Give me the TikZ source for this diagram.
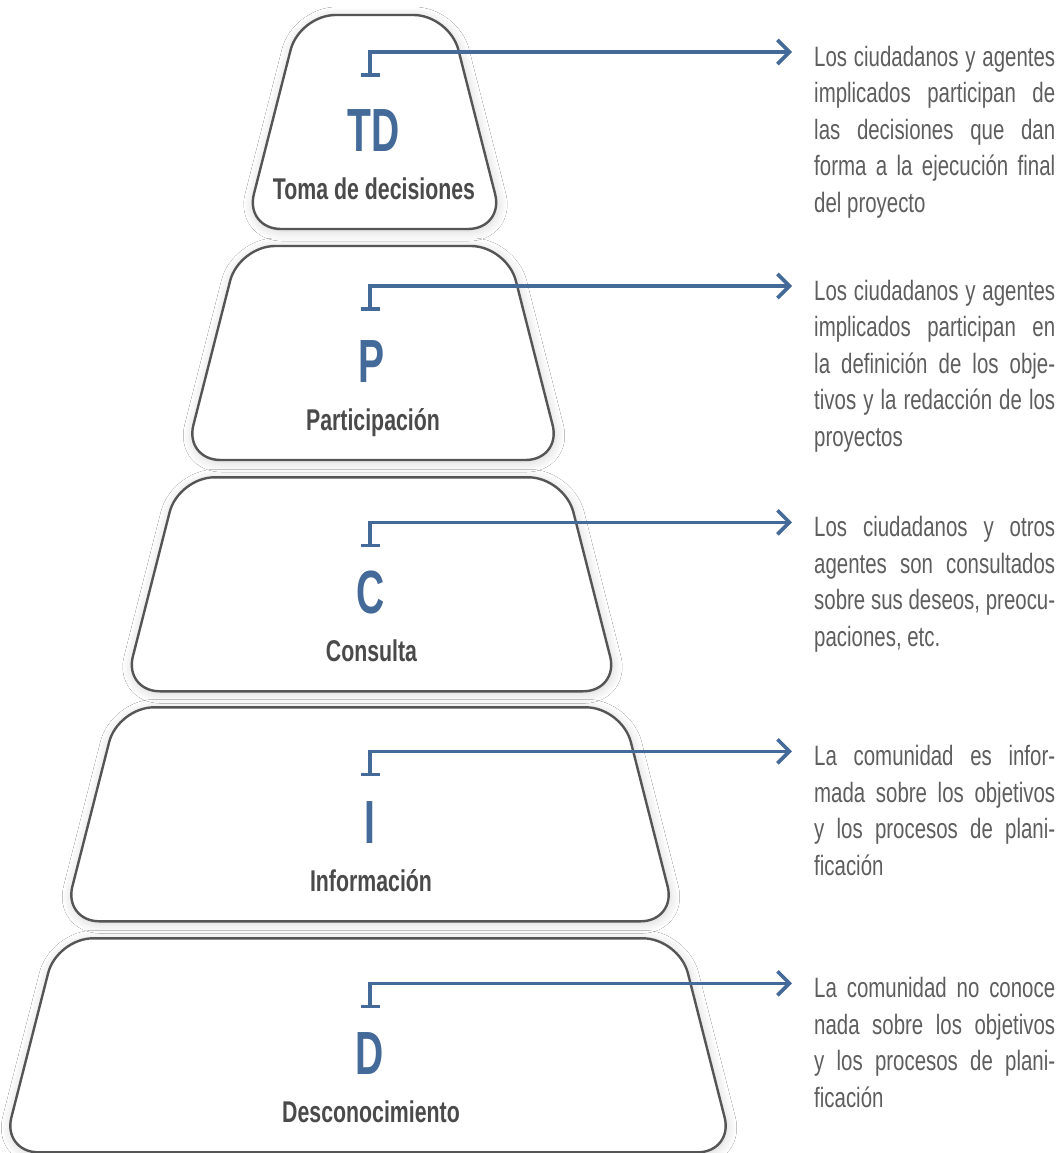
\documentclass[tikz,border=0pt]{standalone}
\usepackage{fontspec}
\setmainfont{Liberation Sans}
\newfontfamily\abbrfont{Liberation Sans}[FakeStretch=0.64]
\newfontfamily\namefont{Liberation Sans}[FakeStretch=0.71]
\newfontfamily\descfont{Liberation Sans}[FakeStretch=0.73]
\usetikzlibrary{arrows.meta,shadows.blur}
\definecolor{linkblue}{HTML}{436A98}
\definecolor{outline}{HTML}{555555}
\definecolor{labelgrey}{HTML}{4A4A4A}
\definecolor{descgrey}{HTML}{5E5E5E}
\begin{document}
\begin{tikzpicture}[x=1pt,y=-1pt,
  layer/.style={draw=outline,line width=2.4pt,fill=white,rounded corners=36pt,
    blur shadow={shadow xshift=1pt,shadow yshift=-2pt,shadow blur radius=10pt,shadow blur steps=12,shadow opacity=18}},
  abbr/.style={anchor=base,inner sep=0pt,text=linkblue,font=\abbrfont\bfseries\fontsize{61}{61}\selectfont},
  levelname/.style={anchor=base,inner sep=0pt,text=labelgrey,font=\namefont\bfseries\fontsize{30}{30}\selectfont},
  desc/.style={anchor=north west,inner sep=0pt,text width=241pt,align=justify,text=descgrey,
    font=\descfont\fontsize{28}{36.5}\selectfont},
  link/.style={draw=linkblue,line width=3.6pt,{Bar[width=19pt]}-{Straight Barb[length=12pt,width=24pt]}}]
\path[use as bounding box,fill=white] (0,0) rectangle (1061,1153);
% Toma de decisiones
\begin{scope}
\draw[layer] (374.5,15) -- (449.5,15) -- (504,229) -- (245,229) -- (299.5,15) -- cycle;
\node[abbr] (td) at (373.5,151.5) {TD};
\node[levelname] (tdname) at (374,199.5) {Toma de decisiones};
\coordinate (tdfoot) at (370,77);
\coordinate (tdtip) at (792,52);
\draw[link] (tdfoot) |- (tdtip);
\node[desc] (tdtext) at (814,40.5) {\tolerance=10000\relax\hyphenpenalty=10000\relax\strut Los ciudadanos y agentes\linebreak implicados participan de\linebreak las decisiones que dan\linebreak forma a la ejecución final\linebreak del proyecto};
\end{scope}
% Participacion
\begin{scope}[yshift=-231pt]
\draw[layer] (373,15) -- (507,15) -- (561.5,229) -- (184.5,229) -- (239,15) -- cycle;
\node[abbr] (p) at (372,151.5) {P};
\node[levelname] (pname) at (373,199.5) {Participación};
\coordinate (pfoot) at (370,80);
\coordinate (ptip) at (792,55);
\draw[link] (pfoot) |- (ptip);
\node[desc] (ptext) at (814,43.5) {\tolerance=10000\relax\hyphenpenalty=10000\relax\strut Los ciudadanos y agentes\linebreak implicados participan en\linebreak la definición de los obje-\linebreak tivos y la redacción de los\linebreak proyectos};
\end{scope}
% Consulta
\begin{scope}[yshift=-462.3pt]
\draw[layer] (371.5,15) -- (564.5,15) -- (619,229) -- (124,229) -- (178.5,15) -- cycle;
\node[abbr] (c) at (371,151.5) {C};
\node[levelname] (cname) at (371.5,199.5) {Consulta};
\coordinate (cfoot) at (370,85);
\coordinate (ctip) at (792,60);
\draw[link] (cfoot) |- (ctip);
\node[desc] (ctext) at (814,48.5) {\tolerance=10000\relax\hyphenpenalty=10000\relax\strut Los ciudadanos y otros\linebreak agentes son consultados\linebreak sobre sus deseos, preocu-\linebreak paciones, etc.};
\end{scope}
% Informacion
\begin{scope}[yshift=-692.3pt]
\draw[layer] (370,15) -- (622,15) -- (676.5,229) -- (63.5,229) -- (118,15) -- cycle;
\node[abbr] (i) at (370,151.5) {I};
\node[levelname] (iname) at (371,199.5) {Información};
\coordinate (ifoot) at (370,84);
\coordinate (itip) at (792,59);
\draw[link] (ifoot) |- (itip);
\node[desc] (itext) at (814,47.5) {\tolerance=10000\relax\hyphenpenalty=10000\relax\strut La comunidad es infor-\linebreak mada sobre los objetivos\linebreak y los procesos de plani-\linebreak ficación};
\end{scope}
% Desconocimiento
\begin{scope}[yshift=-923.3pt]
\draw[layer] (368,15) -- (679,15) -- (733.5,229) -- (2.5,229) -- (57,15) -- cycle;
\node[abbr] (d) at (370,151.5) {D};
\node[levelname] (dname) at (371,199.5) {Desconocimiento};
\coordinate (dfoot) at (370,85);
\coordinate (dtip) at (792,60);
\draw[link] (dfoot) |- (dtip);
\node[desc] (dtext) at (814,48.5) {\tolerance=10000\relax\hyphenpenalty=10000\relax\strut La comunidad no conoce\linebreak nada sobre los objetivos\linebreak y los procesos de plani-\linebreak ficación};
\end{scope}
\end{tikzpicture}
\end{document}
